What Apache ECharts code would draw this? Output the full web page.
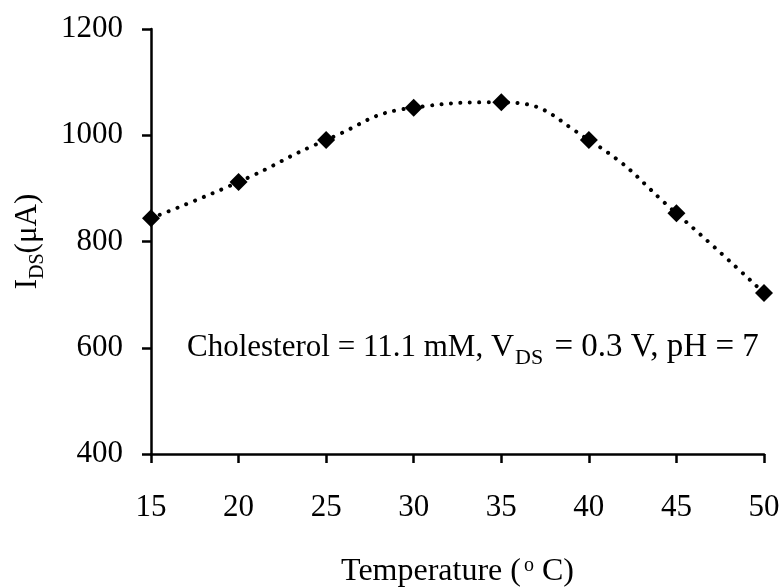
<!DOCTYPE html>
<html>
<head>
<meta charset="utf-8">
<script src="https://cdn.jsdelivr.net/npm/echarts@6/dist/echarts.min.js"></script>
<style>html,body{margin:0;padding:0;background:#fff}#c{width:783px;height:587px}</style>
</head>
<body>
<div id="c"></div>
<script>
const temperatures = [15, 20, 25, 30, 35, 40, 45, 50];
const currents = [844, 912, 991, 1052, 1062, 991, 853, 703];
const xTicks = {min: 15, max: 50, step: 5};
const yTicks = {min: 400, max: 1200, step: 200};

const FONT = '"Liberation Serif", "Times New Roman", serif';
const FS = 31;
const chart = echarts.init(document.getElementById('c'), null, {renderer: 'canvas'});
chart.setOption({
  animation: false,
  backgroundColor: '#fff',
  grid: {left: 151, right: 19, top: 29, bottom: 133, containLabel: false, outerBoundsMode: 'none'},
  xAxis: {
    type: 'value', min: xTicks.min, max: xTicks.max, interval: xTicks.step,
    name: '{t|Temperature (}{o|o}{t|C)}', nameLocation: 'middle', nameGap: 102,
    nameTextStyle: {
      fontFamily: FONT, fontSize: FS, color: '#000',
      rich: {
        t: {fontFamily: FONT, fontSize: 32, color: '#000'},
        o: {fontFamily: FONT, fontSize: 20, color: '#000', verticalAlign: 'top', padding: [0, 8, 8, 3]}
      }
    },
    axisLine: {lineStyle: {color: '#000', width: 2.5}},
    axisTick: {inside: false, length: 9, lineStyle: {color: '#000', width: 2.5}},
    axisLabel: {fontFamily: FONT, fontSize: FS, color: '#000', margin: 38, formatter: v => String(v)},
    splitLine: {show: false}
  },
  yAxis: {
    type: 'value', min: yTicks.min, max: yTicks.max, interval: yTicks.step,
    name: '{i|I}{s|DS}{i|(\u03BCA)}', nameLocation: 'middle', nameGap: 108, nameRotate: 90,
    nameTextStyle: {
      fontFamily: FONT, fontSize: FS, color: '#000',
      rich: {
        i: {fontFamily: FONT, fontSize: FS, color: '#000'},
        s: {fontFamily: FONT, fontSize: 20, color: '#000', verticalAlign: 'bottom', padding: [0, 0, -5, 0]}
      }
    },
    axisLine: {show: true, lineStyle: {color: '#000', width: 2.5}},
    axisTick: {show: true, inside: false, length: 9, lineStyle: {color: '#000', width: 2.5}},
    axisLabel: {fontFamily: FONT, fontSize: FS, color: '#000', margin: 28, formatter: v => String(v)},
    splitLine: {show: false}
  },
  series: [{
    type: 'line',
    data: temperatures.map((t, i) => [t, currents[i]]),
    smooth: 0.5,
    symbol: 'diamond',
    symbolSize: [18, 18],
    itemStyle: {color: '#000'},
    lineStyle: {color: '#000', width: 4, type: [0.01, 9.5], cap: 'round'},
    z: 3
  }],
  graphic: [{
    type: 'text',
    left: 187, top: 331,
    style: {
      text: '{t|Cholesterol = 11.1 mM, }{v|V}{s|DS}{u| = 0.3 V, pH = 7}',
      rich: {
        t: {fontFamily: FONT, fontSize: 31, fill: '#000'},
        v: {fontFamily: FONT, fontSize: 32, fill: '#000'},
        s: {fontFamily: FONT, fontSize: 22, fill: '#000', verticalAlign: 'bottom', padding: [0, 3, -5, 1]},
        u: {fontFamily: FONT, fontSize: 33, fill: '#000'}
      }
    }
  }]
});
</script>
</body>
</html>
